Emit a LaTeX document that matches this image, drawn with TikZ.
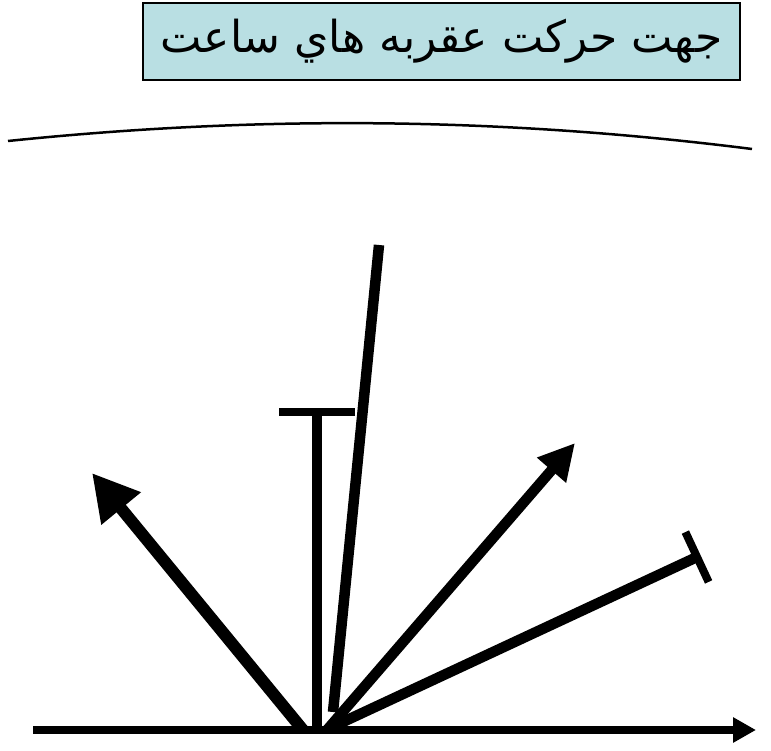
\documentclass[tikz,border=0pt]{standalone}
\usepackage{fontspec}
\newfontfamily\arabicfont[Script=Arabic]{DejaVu Sans}
\TeXXeTstate=1
\usetikzlibrary{arrows.meta,calc}
\definecolor{titlefill}{RGB}{185,223,227}
\tikzset{>=Triangle,hand/.style={line width=10.5pt},bar/.style={line width=8pt},
  axis/.style={line width=8pt,-{Triangle[length=23pt,width=24pt]}},
  title/.style={draw,line width=2.5pt,fill=titlefill,minimum width=597pt,minimum height=77pt,inner sep=0pt,font=\arabicfont\fontsize{44}{50}\selectfont}}

\begin{document}
\begin{tikzpicture}[x=1pt,y=-1pt]
\useasboundingbox (0,0) rectangle (771,751);
\node[title] (titre) at (441.5,41.5) {\beginR جهت حرکت عقربه هاي ساعت\endR};
\draw[line width=2.5pt] (8,141) .. controls (250,116) and (491,116) .. (752,149);
% axe horizontal
\coordinate (gauche) at (33,730);\coordinate (droite) at (756,730);
\draw[axis] (gauche) -- (droite);
% aiguilles
\coordinate (pA) at (303,730);\coordinate (tA) at (92,473);
\draw[hand,line width=12pt,-{Triangle[length=46pt,width=48pt]}] (pA) -- (tA);
\coordinate (pB) at (317,730);\coordinate (tB) at (317,412);
\draw[hand] (pB) -- (tB);
\draw[bar] ($(tB)!38pt!90:(pB)$) -- ($(tB)!38pt!-90:(pB)$);
\coordinate (pC) at (333,712);\coordinate (tC) at (379,245);
\draw[hand] (pC) -- (tC);
\coordinate (pD) at (327,730);\coordinate (tD) at (575,443);
\draw[hand,-{Triangle[length=36pt,width=36pt]}] (pD) -- (tD);
\coordinate (pE) at (330,728);\coordinate (tE) at (697,557);
\draw[hand] (pE) -- (tE);
\draw[bar] ($(tE)!27.5pt!90:(pE)$) -- ($(tE)!27.5pt!-90:(pE)$);
\end{tikzpicture}
\end{document}
